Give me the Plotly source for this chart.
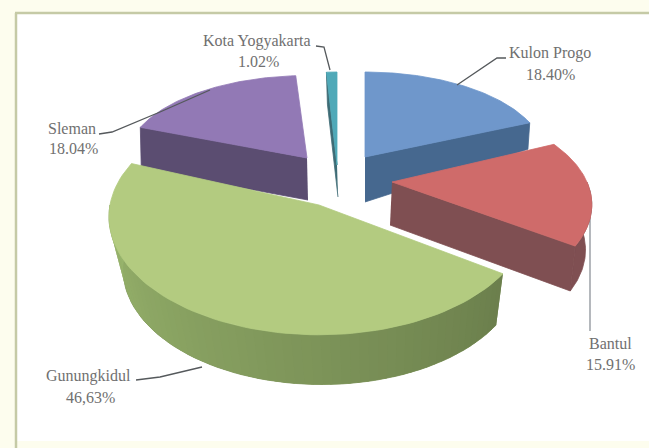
import math
import plotly.graph_objects as go

# Share of each kabupaten/kota, clockwise from twelve o'clock
regions = ["Kulon Progo", "Bantul", "Gunungkidul", "Sleman", "Kota Yogyakarta"]
shares = [18.40, 15.91, 46.63, 18.04, 1.02]
share_labels = ["18.40%", "15.91%", "46,63%", "18.04%", "1.02%"]

top_colors = {"Kulon Progo": "#6f97cb", "Bantul": "#cf6b6a", "Gunungkidul": "#b3cb80",
              "Sleman": "#9279b5", "Kota Yogyakarta": "#4fa9b8"}
wall_colors = {"Kulon Progo": "#46688f", "Bantul": "#7f4f52", "Gunungkidul": "#7d9459",
               "Sleman": "#5b4d71", "Kota Yogyakarta": "#3d6b75"}

# Projected geometry of each exploded wedge: apex, radii and perspective swell
# for the upper face, then the same for the lower face
TOP = {
    "Kulon Progo": (365, 157, 180, 85, 0.00),
    "Bantul": (392, 182, 195, 103, 0.23),
    "Gunungkidul": (319, 205, 209, 118, 0.10),
    "Sleman": (307, 158, 181, 85, 0.03),
    "Kota Yogyakarta": (337, 165, 165, 93, 0.0),
}
BOTTOM = {
    "Kulon Progo": (365, 202, 178, 131, 0.00),
    "Bantul": (390, 225, 190, 105, 0.25),
    "Gunungkidul": (322, 258, 198, 115, 0.10),
    "Sleman": (308, 200, 181, 85, 0.03),
    "Kota Yogyakarta": (338, 197, 165, 93, 0.0),
}
# Which radial cut face can be seen for a wedge
RADIAL_FACE = {"Kulon Progo": "end", "Bantul": "end", "Sleman": "start", "Kota Yogyakarta": "start"}
DRAW_ORDER = ["Sleman", "Kota Yogyakarta", "Kulon Progo", "Bantul", "Gunungkidul"]

LABEL_POS = {
    "Kulon Progo": (550, 53, 550, 74),
    "Bantul": (610, 343, 610, 364),
    "Gunungkidul": (88, 376, 90, 397),
    "Sleman": (72, 128, 73, 148),
    "Kota Yogyakarta": (257, 41, 258, 61),
}
LEADERS = {
    "Kulon Progo": ([506, 497, 457], [58, 58, 85]),
    "Bantul": ([590, 590], [215, 331]),
    "Gunungkidul": ([136, 160, 202], [380, 377, 367]),
    "Sleman": ([99, 112, 160, 210], [134, 132, 112, 90]),
    "Kota Yogyakarta": ([316, 324, 330], [46, 47, 70]),
}


def rim(geom, t):
    x0, y0, rx, ry, p = geom
    s = 1 - p * math.cos(t)
    return x0 + rx * math.sin(t) * s, y0 - ry * math.cos(t) * s


def arc(geom, a, b, steps=40):
    pts = [rim(geom, a + (b - a) * i / steps) for i in range(steps + 1)]
    return [q[0] for q in pts], [q[1] for q in pts]


def polygon(xs, ys, color, width=0.8):
    return go.Scatter(x=xs, y=ys, mode="lines", fill="toself", fillcolor=color,
                      line=dict(color=color, width=width), hoverinfo="skip", showlegend=False)


def shade(hex_color, f):
    r, g, b = (int(hex_color[i:i + 2], 16) for i in (1, 3, 5))
    return f"rgb({min(255, round(r * f))},{min(255, round(g * f))},{min(255, round(b * f))})"


spans = {}
start = 0.0
for name, value in zip(regions, shares):
    stop = start + value / sum(shares) * 2 * math.pi
    spans[name] = (start, stop)
    start = stop

fig = go.Figure()

# The leader to Bantul runs behind the wedge, so it goes in first
xs, ys = LEADERS["Bantul"]
fig.add_trace(go.Scatter(x=xs, y=ys, mode="lines", hoverinfo="skip", showlegend=False,
                         line=dict(color="#8d9299", width=1.3)))

for name in DRAW_ORDER:
    a, b = spans[name]
    top, bottom = TOP[name], BOTTOM[name]
    wall = wall_colors[name]

    # Outer wall; the long Gunungkidul wall gets stepped shading from right to left
    front_a, front_b = max(a, math.pi / 2), min(b, 3 * math.pi / 2)
    if front_b > front_a:
        tx, ty = arc(top, front_a, front_b, 60)
        bx, by = arc(bottom, front_a, front_b, 60)
        fig.add_trace(polygon(tx + bx[::-1], ty + by[::-1], wall))
        if name == "Gunungkidul":
            strips = 60
            for i in range(strips):
                u = front_a + (front_b - front_a) * i / strips
                v = front_a + (front_b - front_a) * (i + 1.3) / strips
                tx, ty = arc(top, u, v, 2)
                bx, by = arc(bottom, u, v, 2)
                f = 0.86 + 0.36 * i / strips
                fig.add_trace(polygon(tx + bx[::-1], ty + by[::-1], shade(wall, f), width=0))

    # Cut face toward the viewer
    face = RADIAL_FACE.get(name)
    if face:
        t = a if face == "start" else b
        p1, p2 = rim(top, t), rim(bottom, t)
        fig.add_trace(polygon([top[0], p1[0], p2[0], bottom[0]],
                              [top[1], p1[1], p2[1], bottom[1]], wall))

    # Upper face
    ax, ay = arc(top, a, b, 80)
    fig.add_trace(polygon([top[0]] + ax + [top[0]], [top[1]] + ay + [top[1]], top_colors[name]))

# Remaining leader lines from the labels to the wedges
for name in regions:
    if name == "Bantul":
        continue
    xs, ys = LEADERS[name]
    fig.add_trace(go.Scatter(x=xs, y=ys, mode="lines", hoverinfo="skip", showlegend=False,
                             line=dict(color="#55595c", width=1.3)))

annotations = []
for name, text in zip(regions, share_labels):
    x1, y1, x2, y2 = LABEL_POS[name]
    for x, y, s in ((x1, y1, name), (x2, y2, text)):
        annotations.append(dict(x=x, y=y, text=s, showarrow=False, xref="x", yref="y",
                                xanchor="center", yanchor="middle",
                                font=dict(family="Liberation Serif", size=16, color="#707070")))

CREAM = "#fdfdee"
FRAME = "#c5caa6"
fig.update_layout(
    width=649, height=448, margin=dict(l=0, r=0, t=0, b=0),
    paper_bgcolor=CREAM, plot_bgcolor=CREAM, showlegend=False,
    xaxis=dict(range=[0, 649], visible=False, fixedrange=True),
    yaxis=dict(range=[448, 0], visible=False, fixedrange=True),
    annotations=annotations,
    shapes=[
        dict(type="rect", layer="below", x0=17, x1=649, y0=14, y1=441,
             fillcolor="#ffffff", line=dict(width=0)),
        dict(type="line", layer="below", x0=15, x1=649, y0=13, y1=13,
             line=dict(color=FRAME, width=2.5)),
        dict(type="line", layer="below", x0=16, x1=16, y0=13, y1=448,
             line=dict(color=FRAME, width=2.5)),
    ],
)
fig.write_html("out.html", config={"displayModeBar": False})
